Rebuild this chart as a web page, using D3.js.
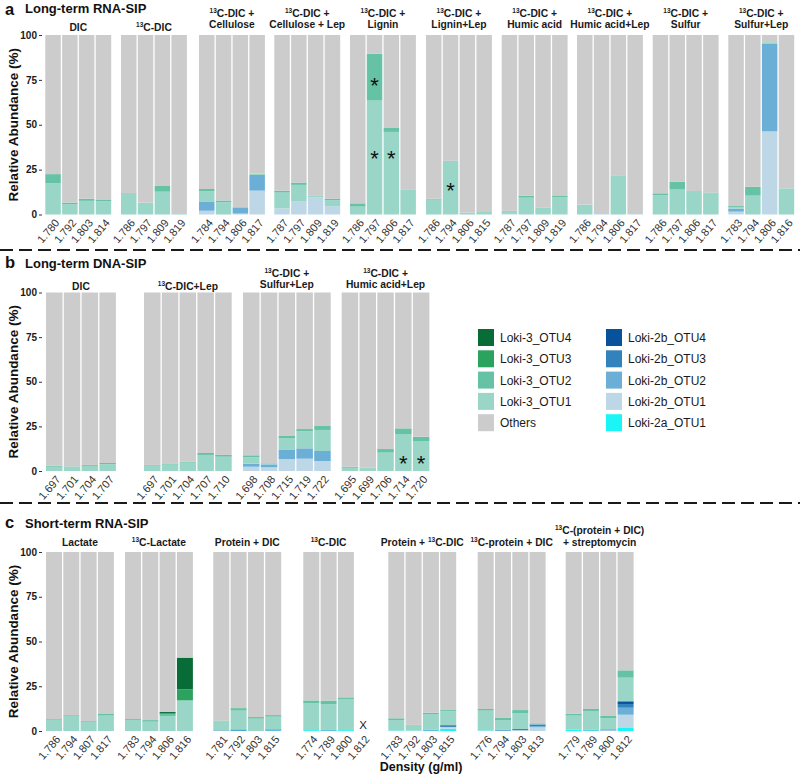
<!DOCTYPE html>
<html><head><meta charset="utf-8">
<script src="https://cdn.jsdelivr.net/npm/d3@7"></script>
<style>body{margin:0;background:#fff}text{font-family:"Liberation Sans",Arial,sans-serif}</style>
</head><body><svg id="c" width="800" height="778"></svg>
<script>
// ---------------- DATA ----------------
const seriesNames = ["Loki-2a_OTU1","Loki-2b_OTU1","Loki-2b_OTU2","Loki-2b_OTU3","Loki-2b_OTU4",
  "Loki-3_OTU1","Loki-3_OTU2","Loki-3_OTU3","Loki-3_OTU4","Others"];
const seriesColors = ["#1cf5f5","#bdd7e7","#6baed6","#3182bd","#08519c",
  "#99d6c7","#66c2a4","#2ca25f","#086c36","#cccccc"];
const legendCol1 = ["Loki-3_OTU4","Loki-3_OTU3","Loki-3_OTU2","Loki-3_OTU1","Others"];
const legendCol2 = ["Loki-2b_OTU4","Loki-2b_OTU3","Loki-2b_OTU2","Loki-2b_OTU1","Loki-2a_OTU1"];
const yTicks = [0,25,50,75,100];

// Panel a: Long-term RNA-SIP
const aFacets = [["DIC"],["13C-DIC"],["13C-DIC +","Cellulose"],["13C-DIC +","Cellulose + Lep"],
  ["13C-DIC +","Lignin"],["13C-DIC +","Lignin+Lep"],["13C-DIC +","Humic acid"],
  ["13C-DIC +","Humic acid+Lep"],["13C-DIC +","Sulfur"],["13C-DIC +","Sulfur+Lep"]];
const aDensity = [["1.780","1.792","1.803","1.814"],["1.786","1.797","1.809","1.819"],
  ["1.784","1.794","1.806","1.817"],["1.787","1.797","1.809","1.819"],
  ["1.786","1.797","1.806","1.817"],["1.786","1.794","1.806","1.815"],
  ["1.787","1.797","1.809","1.819"],["1.786","1.794","1.806","1.817"],
  ["1.786","1.797","1.806","1.817"],["1.783","1.794","1.806","1.816"]];
const a2a1 = new Array(40).fill(0);
const a2b1 = [0,0,0,0, 0,0,0,0, 2.1,0,0.5,13.3, 3.4,7.2,9.6,4.7, 0,0,0,0, 0,0,0,0, 0.3,0,0,0, 0,0.3,0,0.3, 0,0,0,0, 1.6,0,46.3,0];
const a2b2 = [0,0,0,0, 0,0,0,0, 4.9,0,3.5,8.7, 0,0,0,0, 0,0,0,0, 0,0,0,0, 0.3,0,0,0, 0,0,0,0, 0,0,0,0, 1.7,0,48.7,0];
const a2b3 = new Array(40).fill(0);
const a2b4 = new Array(40).fill(0);
const aL31 = [17.5,5.8,7.6,7.3, 12,6.6,12.7,0.3, 6,6.8,0,0.8, 8.8,9.3,1.1,3.2, 4.4,63.5,46,13.7,
  8.3,29.9,1.0,1.4, 1.4,9.4,4.0,9.6, 5.5,0,21.5,0, 10.7,13.9,13.1,11.8, 0.7,10.5,1,14.6];
const aL32 = [5,0.8,1.2,0.8, 0,0,3.2,0, 1.2,1,0,0, 1.1,1.3,0,0.8, 1.8,26,2.5,0,
  0.5,0,0,0, 0,1.1,0,0.7, 0,0,0,0, 1.1,4.4,0,0.4, 0.7,4.9,0,0];
const aL33 = new Array(40).fill(0);
const aL34 = new Array(40).fill(0);
const aStars = [[4,1,74.7],[4,1,34.2],[4,2,34.2],[5,1,15.9]]; // [facet, bar, value]

// Panel b: Long-term DNA-SIP
const bFacets = [["DIC"],["13C-DIC+Lep"],["13C-DIC +","Sulfur+Lep"],["13C-DIC +","Humic acid+Lep"]];
const bDensity = [["1.697","1.701","1.704","1.707"],["1.697","1.701","1.704","1.707","1.710"],
  ["1.698","1.708","1.715","1.719","1.722"],["1.695","1.699","1.706","1.714","1.720"]];
const b2a1 = new Array(19).fill(0);
const b2b1 = [0,0,0,0, 0,0,0,0,0, 2.4,2.1,6.7,6.9,5.6, 0,0,0,0,0];
const b2b2 = [0,0,0,0, 0,0,0,0,0, 1.7,1.6,5.1,5.8,5.6, 0,0,0,0,0];
const b2b3 = new Array(19).fill(0);
const b2b4 = new Array(19).fill(0);
const bL31 = [2.4,2.2,2.9,3.8, 3,3.6,4.7,9,8, 3.6,0.3,6.5,9.5,11.8, 1.8,1.5,10.3,20.7,16.8];
const bL32 = [0.6,0.3,0.5,0.7, 0.4,0.6,0.5,1.1,1, 1.1,0.3,1.3,1.3,2.2, 0.6,0.4,2,3.2,2.4];
const bL33 = new Array(19).fill(0);
const bL34 = new Array(19).fill(0);
const bStars = [[3,3,7.1],[3,4,7.1]];

// Panel c: Short-term RNA-SIP
const cFacets = [["Lactate"],["13C-Lactate"],["Protein + DIC"],["13C-DIC"],["Protein + 13C-DIC"],
  ["13C-protein + DIC"],["13C-(protein + DIC)","+ streptomycin"]];
const cDensity = [["1.786","1.794","1.807","1.817"],["1.783","1.794","1.806","1.816"],
  ["1.781","1.792","1.803","1.815"],["1.774","1.789","1.800","1.812"],
  ["1.783","1.792","1.803","1.815"],["1.776","1.794","1.803","1.813"],
  ["1.779","1.789","1.800","1.812"]];
const c2a1 = [0,0,0,0, 0,0,0,0, 0,0.3,0,0.3, 0.5,0.3,0.5,0, 0.3,0.2,0.3,1.3, 0.3,0,0,0, 0.7,0.4,0,1.7];
const c2b1 = [0,0,0,0, 0,0,0,0, 0,0,0,0, 0,0,0,0, 0,0,0,0.9, 0,0,0.5,2.1, 0,0,0.4,7.4];
const c2b2 = [0,0,0,0, 0,0,0,0, 0,0,0,0, 0,0,0,0, 0,0,0,0, 0,0.6,0,0.6, 0,0,0,3.9];
const c2b3 = [0,0,0,0, 0,0,0,0, 0.3,0,0,0.6, 0,0.3,0,0, 0,0,0.4,0.3, 0,0,0.6,1.0, 0,0.3,0.5,2.1];
const c2b4 = [0,0,0,0, 0,0,0,0, 0,0.5,0,0, 0,0,0,0, 0,0,0,0.7, 0,0,0,0, 0,0,0,1.5];
const cL31 = [6.3,8.5,5.2,8.6, 6.2,5.2,8.4,17.1, 5.1,10.6,6.9,7.1, 14.9,14.3,17.4,null,
  5.8,3.2,8.8,7.8, 11.1,5.5,8.9,0.8, 7.9,10.5,6.2,13.2];
const cL32 = [0.4,0.4,0.4,0.9, 0.5,0.9,1.1,0, 0.4,1.4,0.9,0.9, 1.7,2.1,0.9,0,
  1.0,0,0.7,0.7, 0.9,1.2,1.7,0, 1.1,1.1,1.3,4.1];
const cL33 = [0,0,0,0, 0,0,0.4,6.2, 0,0,0,0, 0,0,0,0, 0,0,0,0, 0,0,0,0, 0,0,0,0];
const cL34 = [0,0,0,0, 0,0,0.7,17.7, 0,0,0,0, 0,0,0,0, 0,0,0,0, 0,0,0,0, 0,0,0,0];
const cStars = [];
const cMissingMark = "X";

// ---------------- LAYOUT ----------------
const panels = [
  {letter:"a", title:"Long-term RNA-SIP", titleY:13, letterY:14.5, y0:214.5, y100:35,
   facets:aFacets, density:aDensity, series:[a2a1,a2b1,a2b2,a2b3,a2b4,aL31,aL32,aL33,aL34],
   starts:[45.3,121,199,274.3,350,426,501.7,577,652.7,728.3], pitch:16.8, slots:4,
   strip:[16.7,27.5,30.5], stars:aStars},
  {letter:"b", title:"Long-term DNA-SIP", titleY:267.5, letterY:267.5, y0:471, y100:292.5,
   facets:bFacets, density:bDensity, series:[b2a1,b2b1,b2b2,b2b3,b2b4,bL31,bL32,bL33,bL34],
   starts:[46,144,243,341.7], pitch:17.8, slots:5,
   strip:[276.5,287.5,289.5], stars:bStars},
  {letter:"c", title:"Short-term RNA-SIP", titleY:528, letterY:528, y0:731, y100:552,
   facets:cFacets, density:cDensity, series:[c2a1,c2b1,c2b2,c2b3,c2b4,cL31,cL32,cL33,cL34],
   starts:[46,125,213.3,303.3,388.3,477.7,565.7], pitch:17.3, slots:4,
   strip:[534,545.5,546], stars:cStars}
];
const GAP = 1.3;

const svg = d3.select("#c");
const colorScale = d3.scaleOrdinal().domain(seriesNames).range(seriesColors);

function stripLine(g, str, x, y) {
  const t = g.append("text").attr("x", x).attr("y", y).attr("text-anchor","middle")
    .attr("font-size", 10.3).attr("font-weight","bold").attr("fill","#1a1a1a");
  const parts = str.split("13C");
  parts.forEach((p, k) => {
    if (k === 0) { if (p) t.append("tspan").text(p); }
    else {
      t.append("tspan").attr("font-size", 6.5).attr("dy", -4).text("13");
      t.append("tspan").attr("dy", 4).text("C" + p);
    }
  });
}

panels.forEach(P => {
  const y = d3.scaleLinear().domain([0,100]).range([P.y0, P.y100]);
  const g = svg.append("g");

  // title
  g.append("text").attr("x", 5).attr("y", P.letterY).attr("font-size", 16.5).attr("font-weight","bold")
    .attr("fill","#111").text(P.letter);
  g.append("text").attr("x", 25).attr("y", P.titleY).attr("font-size", 13).attr("font-weight","bold")
    .attr("fill","#111").text(P.title);

  // y axis
  const ax = g.append("g").attr("transform", `translate(42,0)`)
    .call(d3.axisLeft(y).tickValues(yTicks).tickSize(3).tickPadding(2));
  ax.select(".domain").remove();
  ax.selectAll("line").attr("stroke","#333");
  ax.selectAll("text").attr("font-size",10).attr("font-weight","bold").attr("fill","#1a1a1a")
    .attr("font-family",'"Liberation Sans",Arial,sans-serif');
  g.append("text").attr("transform", `translate(17.5,${(P.y0+P.y100)/2}) rotate(-90)`)
    .attr("text-anchor","middle").attr("font-size",13.5).attr("font-weight","bold").attr("fill","#111")
    .text("Relative Abundance (%)");

  // rows
  let idx = 0;
  P.density.forEach((dens, f) => {
    const x0 = P.starts[f] - GAP/2;
    const x = d3.scaleBand().domain(d3.range(P.slots)).range([x0, x0 + P.slots*P.pitch])
      .paddingInner(GAP/P.pitch).paddingOuter(GAP/P.pitch/2);
    const rows = dens.map((d, j) => {
      const r = {slot:j, density:d};
      let missing = false, sum = 0;
      seriesNames.slice(0,9).forEach((s, k) => {
        const v = P.series[k][idx + j];
        if (v === null) missing = true;
        r[s] = v || 0; sum += v || 0;
      });
      r.Others = 100 - sum; r.missing = missing;
      return r;
    });
    idx += dens.length;
    const present = rows.filter(r => !r.missing);
    const stacked = d3.stack().keys(seriesNames)(present);
    const fg = g.append("g");
    stacked.forEach(layer => {
      fg.selectAll(null).data(layer.filter(d => d[1] - d[0] > 0)).enter().append("rect")
        .attr("x", d => x(d.data.slot)).attr("width", x.bandwidth())
        .attr("y", d => y(d[1])).attr("height", d => y(d[0]) - y(d[1]))
        .attr("fill", colorScale(layer.key));
    });
    rows.filter(r => r.missing).forEach(r => {
      fg.append("text").attr("x", x(r.slot) + x.bandwidth()/2).attr("y", y(0) - 1.7)
        .attr("text-anchor","middle").attr("font-size", 11.5).attr("fill","#1a1a1a").text(cMissingMark);
    });
    // x axis labels
    const xa = fg.append("g").attr("transform", `translate(0,${P.y0})`)
      .call(d3.axisBottom(x).tickValues(d3.range(dens.length)).tickFormat(i => dens[i]).tickSize(0));
    xa.select(".domain").remove();
    xa.selectAll("text").attr("font-size",11).attr("fill","#333")
      .attr("font-family",'"Liberation Sans",Arial,sans-serif')
      .attr("text-anchor","end").attr("x",0).attr("y",0).attr("dy",0)
      .attr("transform","translate(7,8.5) rotate(-50)");
    // strip
    const usedSlots = rows.filter(r => !r.missing).length;
    const cx = x(0) + ((usedSlots - 1) * x.step() + x.bandwidth()) / 2;
    const lines = P.facets[f];
    if (lines.length === 1) stripLine(fg, lines[0], cx, P.strip[2]);
    else { stripLine(fg, lines[0], cx, P.strip[0]); stripLine(fg, lines[1], cx, P.strip[1]); }
    // stars
    P.stars.filter(s => s[0] === f).forEach(s => {
      fg.append("text").attr("x", x(s[1]) + x.bandwidth()/2).attr("y", y(s[2]) + 12.5)
        .attr("text-anchor","middle").attr("font-size",22).attr("fill","#111").text("*");
    });
  });
});

// dashed separators
[250, 503].forEach(yy => {
  svg.append("line").attr("x1",0).attr("x2",800).attr("y1",yy).attr("y2",yy)
    .attr("stroke","#1a1a1a").attr("stroke-width",2).attr("stroke-dasharray","13,6");
});

// x title
svg.append("text").attr("x", 421).attr("y", 771).attr("text-anchor","middle").attr("font-size",12.5)
  .attr("font-weight","bold").attr("fill","#111").text("Density (g/ml)");

// legend
[[legendCol1, 478], [legendCol2, 606]].forEach(([items, lx]) => {
  const lg = svg.append("g");
  items.forEach((name, i) => {
    const ty = 329 + i * 21.3;
    lg.append("rect").attr("x", lx).attr("y", ty).attr("width", 16).attr("height", 17)
      .attr("fill", colorScale(name));
    lg.append("text").attr("x", lx + 22).attr("y", ty + 13).attr("font-size", 12)
      .attr("fill","#1a1a1a").text(name);
  });
});
</script></body></html>
